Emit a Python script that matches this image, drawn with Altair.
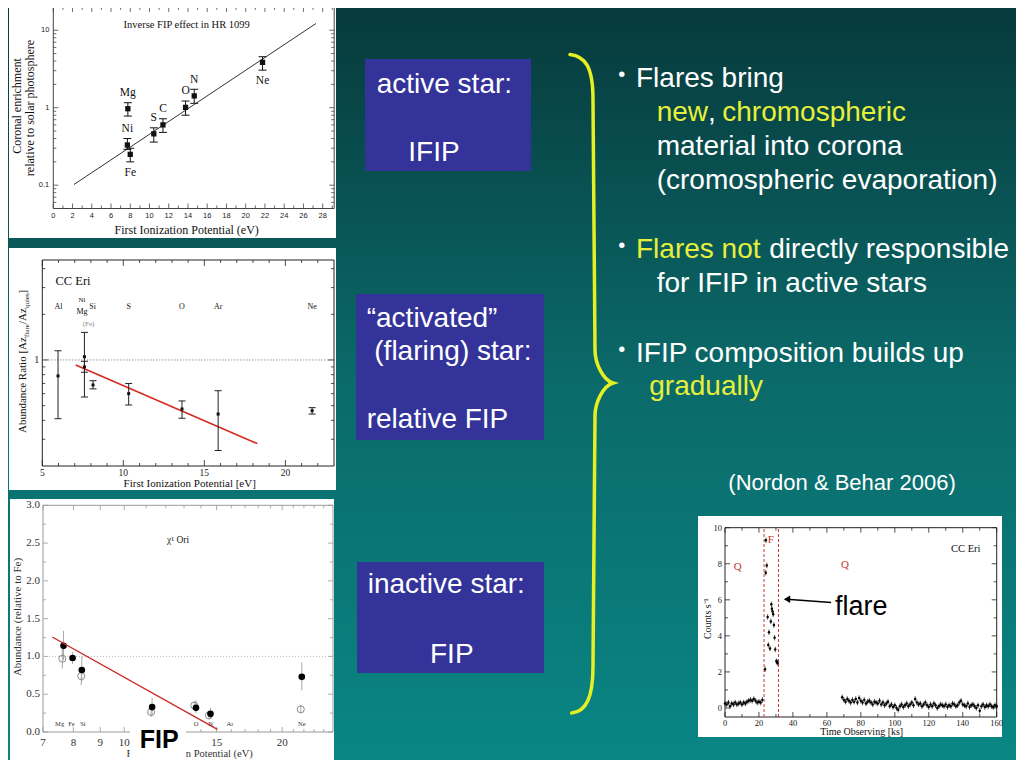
import altair as alt
import pandas as pd

# ======================= DATA =======================
# --- Panel 1: Inverse FIP effect in HR 1099 ---
hr_elem = ["Mg", "Ni", "Fe", "S", "C", "O", "N", "Ne"]
hr_fip = [7.75, 7.7, 8.0, 10.45, 11.4, 13.75, 14.65, 21.75]
hr_val = [0.97, 0.33, 0.25, 0.46, 0.60, 1.01, 1.42, 3.85]
hr_lo = [0.78, 0.29, 0.20, 0.36, 0.48, 0.80, 1.14, 3.05]
hr_hi = [1.16, 0.40, 0.30, 0.55, 0.72, 1.22, 1.73, 4.55]
hr_side = ["above", "above", "below", "above", "above", "above", "above", "below"]
hr_fit_x = [2.15, 27.3]
hr_fit_y = [0.102, 12.2]
hr_x_major = [0, 2, 4, 6, 8, 10, 12, 14, 16, 18, 20, 22, 24, 26, 28]
hr_x_minor = [1, 3, 5, 7, 9, 11, 13, 15, 17, 19, 21, 23, 25, 27, 29]
hr_y_major = [0.1, 1, 10]
hr_y_labels = ["0.1", "1", "10"]
hr_y_minor = [0.06, 0.07, 0.08, 0.09, 0.2, 0.3, 0.4, 0.5, 0.6, 0.7, 0.8, 0.9,
              2, 3, 4, 5, 6, 7, 8, 9]
hr_title = "Inverse FIP effect in HR 1099"
hr_xtitle = "First Ionization Potential (eV)"
hr_ytitle = ["Coronal enrichment", "relative to solar photosphere"]

# --- Panel 2: CC Eri flare / quiescent abundance ratio ---
cc_elem = ["Al", "Ni", "Mg", "Si", "S", "O", "Ar", "Ne"]
cc_fip = [5.97, 7.6, 7.6, 8.13, 10.33, 13.62, 15.85, 21.65]
cc_val = [0.785, 1.05, 0.90, 0.684, 0.60, 0.475, 0.44, 0.463]
cc_lo = [0.41, 0.57, 0.83, 0.645, 0.505, 0.413, 0.253, 0.44]
cc_hi = [1.15, 1.52, 0.98, 0.73, 0.70, 0.537, 0.627, 0.485]
cc_lab = ["Al", "Si", "Mg", "S", "O", "Ar", "Ne"]
cc_lab_x = [6.0, 8.1, 7.45, 10.33, 13.62, 15.85, 21.65]
cc_lab_y = [2.25, 2.25, 2.08, 2.25, 2.25, 2.25, 2.25]
cc_small_lab = ["Ni"]
cc_small_x = [7.45]
cc_small_y = [2.5]
cc_grey_lab = ["(Fe)"]
cc_grey_x = [7.85]
cc_grey_y = [1.73]
cc_fit_x = [7.06, 18.27]
cc_fit_y = [0.927, 0.281]
cc_x_major = [5, 10, 15, 20]
cc_x_minor = [6, 7, 8, 9, 11, 12, 13, 14, 16, 17, 18, 19, 21, 22]
cc_y_major = [1]
cc_y_labels = ["1"]
cc_y_minor = [0.3, 0.4, 0.5, 0.6, 0.7, 0.8, 0.9, 2, 3, 4]
cc_name = "CC Eri"
cc_xtitle = "First Ionization Potential [eV]"
cc_ytitle = ["Abundance Ratio [Az", "flare", "/Az", "quies", "]"]

# --- Panel 3: chi1 Ori ---
chi_f_fip = [7.66, 7.97, 8.3, 11.3, 13.7, 14.6, 21.8]
chi_f_val = [1.14, 0.98, 0.82, 0.33, 0.32, 0.24, 0.73]
chi_f_lo = [0.95, 0.90, 0.66, 0.22, 0.25, 0.18, 0.55]
chi_f_hi = [1.34, 1.06, 1.00, 0.45, 0.42, 0.32, 0.92]
chi_o_fip = [7.62, 8.28, 11.25, 13.6, 14.5, 21.7]
chi_o_val = [0.97, 0.74, 0.265, 0.35, 0.22, 0.30]
chi_o_lo = [0.84, 0.62, 0.20, 0.29, 0.17, 0.25]
chi_o_hi = [1.10, 0.86, 0.33, 0.41, 0.28, 0.36]
chi_lab = ["Mg", "Fe", "Si", "O", "N", "Ar", "Ne"]
chi_lab_x = [7.53, 7.93, 8.34, 13.7, 14.6, 15.9, 21.8]
chi_lab_y = [0.1, 0.1, 0.1, 0.1, 0.1, 0.1, 0.1]
chi_fit_x = [7.29, 15.05]
chi_fit_y = [1.257, 0.036]
chi_x_major = [7, 8, 9, 10, 15, 20]
chi_x_labels = ["7", "8", "9", "10", "15", "20"]
chi_x_minor = [11, 12, 13, 14, 16, 17, 18, 19, 21, 22, 23, 24]
chi_y_major = [0, 0.5, 1.0, 1.5, 2.0, 2.5, 3.0]
chi_y_labels = ["0.0", "0.5", "1.0", "1.5", "2.0", "2.5", "3.0"]
chi_y_minor = [0.25, 0.75, 1.25, 1.75, 2.25, 2.75]
chi_name = "χ¹ Ori"
chi_xtitle = "First Ionization Potential (eV)"
chi_ytitle = "Abundance (relative to Fe)"

# --- Panel 4: CC Eri light curve ---
lc_q1_t = list(range(0, 23))
lc_q1_c = [0.25, 0.2, 0.3, 0.1, 0.25, 0.2, 0.3, 0.2, 0.25, 0.3, 0.2, 0.3,
           0.25, 0.35, 0.4, 0.45, 0.4, 0.5, 0.4, 0.3, 0.35, 0.3, 0.45]
lc_f_t = [23.6, 24.0, 24.1, 24.6, 25.1, 25.5, 25.9, 26.5, 27.0, 27.3, 27.6,
          28.0, 28.4, 28.8, 29.2, 29.6, 30.2, 30.6, 31.0]
lc_f_c = [2.15, 7.5, 9.3, 7.9, 5.05, 3.5, 4.2, 3.3, 4.8, 5.75, 5.5,
          5.35, 5.2, 4.6, 3.9, 3.25, 2.6, 2.55, 2.5]
lc_q2_t = list(range(69, 161))
lc_q2_c = [0.6, 0.45, 0.35, 0.5, 0.4, 0.3, 0.45, 0.35, 0.5, 0.3,
           0.55, 0.4, 0.3, 0.45, 0.25, 0.35, 0.4, 0.3, 0.2, 0.35,
           0.3, 0.25, 0.4, 0.2, 0.3, 0.15, 0.25, 0.35, 0.1, 0.2,
           0.05, 0.15, 0.0, -0.1, 0.1, 0.2, 0.05, 0.15, 0.25, 0.1,
           0.2, 0.3, 0.15, 0.5, 0.3, 0.2, 0.25, 0.1, 0.2, 0.3,
           0.15, 0.05, 0.2, 0.1, 0.25, 0.15, 0.0, 0.1, 0.2, 0.15,
           0.1, 0.2, 0.05, 0.15, 0.1, 0.25, 0.2, 0.1, 0.15, 0.3,
           0.4, 0.2, 0.15, 0.1, 0.25, 0.05, 0.15, 0.2, 0.1, 0.0,
           0.15, -0.15, 0.1, 0.2, 0.05, 0.15, 0.1, 0.2, 0.1, 0.05,
           0.15, 0.1]
lc_err = 0.15
lc_bounds = [23, 31.5]
lc_phase_lab = ["Q", "F", "Q"]
lc_phase_x = [7.5, 27.0, 70.7]
lc_phase_y = [7.8, 9.3, 7.95]
lc_name = "CC Eri"
lc_name_x = [141.8]
lc_name_y = [8.8]
lc_arrow_from = [62.5, 5.85]
lc_arrow_to = [36.5, 6.03]
lc_note = "flare"
lc_note_at = [64.8, 5.14]
lc_x_major = [0, 20, 40, 60, 80, 100, 120, 140, 160]
lc_x_minor = [10, 30, 50, 70, 90, 110, 130, 150]
lc_y_major = [0, 2, 4, 6, 8, 10]
lc_y_minor = [1, 3, 5, 7, 9]
lc_xtitle = "Time Observing [ks]"
lc_ytitle = "Counts s⁻¹"

# --- Slide texts ---
box1_lines = ["active star:", "IFIP"]
box2_lines = ["“activated”", "(flaring) star:", "relative FIP"]
box3_lines = ["inactive star:", "FIP"]
bullet1 = ["Flares bring", "new", ",", "chromospheric", "material into corona",
           "(cromospheric evaporation)"]
bullet2 = ["Flares not", "directly responsible", "for IFIP in active stars"]
bullet3 = ["IFIP composition builds up", "gradually"]
citation = "(Nordon & Behar 2006)"
fip_tag = "FIP"

# ======================= LAYOUT HELPERS =======================
OFF = 8
W, H = 1008, 752
SERIF = "Liberation Serif"
SANS = "Liberation Sans"
ONE = pd.DataFrame({"k": [0]})
YEL = "#e6f03a"
BOX = "#333399"


def px(v):
    return v - OFF


def scales(xt, xd, xr, yt, yd, yr):
    sx = alt.Scale(type=xt, domain=xd, range=[px(xr[0]), px(xr[1])], nice=False)
    sy = alt.Scale(type=yt, domain=yd, range=[px(yr[0]), px(yr[1])], nice=False)
    return sx, sy


def X(sc, f):
    return alt.X(f, type="quantitative", scale=sc, axis=None)


def Y(sc, f):
    return alt.Y(f, type="quantitative", scale=sc, axis=None)


def XD(sc, v):
    return alt.XDatum(v, type="quantitative", scale=sc, axis=None)


def YD(sc, v):
    return alt.YDatum(v, type="quantitative", scale=sc, axis=None)


def ptext(t, x, y, size, color="white", font=SANS, align="left",
          baseline="alphabetic", angle=0, weight="normal"):
    return alt.Chart(ONE).mark_text(
        align=align, baseline=baseline, font=font, fontSize=size, color=color,
        angle=angle, fontWeight=weight
    ).encode(x=alt.value(px(x)), y=alt.value(px(y)), text=alt.value(t))


def prect(x, x2, y, y2, fill):
    return alt.Chart(ONE).mark_rect(fill=fill).encode(
        x=alt.value(px(x)), x2=alt.value(px(x2)),
        y=alt.value(px(y)), y2=alt.value(px(y2)))


def axes(sx, sy, xd, yd, xmaj, xmin, ymaj, ymin, color, lmaj=5, lmin=3):
    L = [alt.Chart(ONE).mark_rect(fillOpacity=0, stroke=color, strokeWidth=1).encode(
        x=XD(sx, xd[0]), x2=alt.X2Datum(xd[1]),
        y=YD(sy, yd[0]), y2=alt.Y2Datum(yd[1]))]
    for vals, ln in ((xmaj, lmaj), (xmin, lmin)):
        d = pd.DataFrame({"v": vals})
        L.append(alt.Chart(d).mark_rule(color=color, strokeWidth=0.8, y2Offset=-ln).encode(
            x=X(sx, "v"), y=YD(sy, yd[0]), y2=alt.Y2Datum(yd[0])))
        L.append(alt.Chart(d).mark_rule(color=color, strokeWidth=0.8, y2Offset=ln).encode(
            x=X(sx, "v"), y=YD(sy, yd[1]), y2=alt.Y2Datum(yd[1])))
    for vals, ln in ((ymaj, lmaj), (ymin, lmin)):
        d = pd.DataFrame({"v": vals})
        L.append(alt.Chart(d).mark_rule(color=color, strokeWidth=0.8, x2Offset=ln).encode(
            y=Y(sy, "v"), x=XD(sx, xd[0]), x2=alt.X2Datum(xd[0])))
        L.append(alt.Chart(d).mark_rule(color=color, strokeWidth=0.8, x2Offset=-ln).encode(
            y=Y(sy, "v"), x=XD(sx, xd[1]), x2=alt.X2Datum(xd[1])))
    return L


def xlabels(sx, sy, vals, texts, ybase, dy, font, size, color="#222"):
    d = pd.DataFrame({"v": vals, "t": texts})
    return alt.Chart(d).mark_text(font=font, fontSize=size, color=color,
                                  baseline="middle", dy=dy).encode(
        x=X(sx, "v"), y=YD(sy, ybase), text="t:N")


def ylabels(sx, sy, vals, texts, xbase, dx, font, size, color="#222"):
    d = pd.DataFrame({"v": vals, "t": texts})
    return alt.Chart(d).mark_text(font=font, fontSize=size, color=color,
                                  baseline="middle", align="right", dx=dx).encode(
        x=XD(sx, xbase), y=Y(sy, "v"), text="t:N")


def errbars(sx, sy, df, color, cap=0, width=1):
    L = [alt.Chart(df).mark_rule(color=color, strokeWidth=width).encode(
        x=X(sx, "x"), y=Y(sy, "lo"), y2="hi")]
    if cap:
        for f in ("lo", "hi"):
            L.append(alt.Chart(df).mark_tick(orient="horizontal", size=cap, thickness=1,
                                             color=color, opacity=1).encode(
                x=X(sx, "x"), y=Y(sy, f)))
    return L


# ======================= PANEL 1 =======================
sx1, sy1 = scales("linear", [0, 29.2], [53.3, 334.2], "log", [0.05, 20], [208.5, 6.9])
hr = pd.DataFrame({"el": hr_elem, "x": hr_fip, "v": hr_val, "lo": hr_lo,
                   "hi": hr_hi, "side": hr_side})
p1 = axes(sx1, sy1, [0, 29.2], [0.05, 20], hr_x_major, hr_x_minor,
          hr_y_major, hr_y_minor, "#444", 5, 3)
p1.append(alt.Chart(pd.DataFrame({"x": hr_fit_x, "y": hr_fit_y})).mark_line(
    color="#333", strokeWidth=1).encode(x=X(sx1, "x"), y=Y(sy1, "y")))
p1 += errbars(sx1, sy1, hr, "#111", cap=8)
p1.append(alt.Chart(hr).mark_square(size=28, color="#111", opacity=1).encode(
    x=X(sx1, "x"), y=Y(sy1, "v")))
p1.append(alt.Chart(hr[hr.side == "above"]).mark_text(
    dy=-16, font=SERIF, fontSize=11.5, color="#111").encode(
    x=X(sx1, "x"), y=Y(sy1, "v"), text="el:N"))
p1.append(alt.Chart(hr[hr.side == "below"]).mark_text(
    dy=19, font=SERIF, fontSize=11.5, color="#111").encode(
    x=X(sx1, "x"), y=Y(sy1, "v"), text="el:N"))
p1.append(xlabels(sx1, sy1, hr_x_major, [str(v) for v in hr_x_major], 0.05, 7, SANS, 7.5))
p1.append(ylabels(sx1, sy1, hr_y_major, hr_y_labels, 0, -4, SANS, 7.5))
p1.append(ptext(hr_title, 186.7, 25, 10.5, "#111", SERIF, "center", "middle"))
p1.append(ptext(hr_xtitle, 186.7, 230, 12, "#111", SERIF, "center", "middle"))
p1.append(ptext(hr_ytitle[0], 17, 106, 12, "#111", SERIF, "center", "middle", 270))
p1.append(ptext(hr_ytitle[1], 30, 108, 12, "#111", SERIF, "center", "middle", 270))

# ======================= PANEL 2 =======================
sx2, sy2 = scales("linear", [5, 23], [42.3, 334], "log", [0.2, 4.56], [466, 260])
cc = pd.DataFrame({"el": cc_elem, "x": cc_fip, "v": cc_val, "lo": cc_lo, "hi": cc_hi})
p2 = axes(sx2, sy2, [5, 23], [0.2, 4.56], cc_x_major, cc_x_minor,
          cc_y_major, cc_y_minor, "#222", 6, 3)
p2.append(alt.Chart(ONE).mark_rule(color="#666", strokeDash=[1, 2], strokeWidth=1).encode(
    x=XD(sx2, 5), x2=alt.X2Datum(23), y=YD(sy2, 1)))
p2.append(alt.Chart(pd.DataFrame({"x": cc_fit_x, "y": cc_fit_y})).mark_line(
    color="#d42a20", strokeWidth=1.6).encode(x=X(sx2, "x"), y=Y(sy2, "y")))
p2 += errbars(sx2, sy2, cc, "#222", cap=7)
p2.append(alt.Chart(cc).mark_square(size=9, color="#111", opacity=1).encode(
    x=X(sx2, "x"), y=Y(sy2, "v")))
for labs, lx, ly, size, col in ((cc_lab, cc_lab_x, cc_lab_y, 8, "#111"),
                                (cc_small_lab, cc_small_x, cc_small_y, 7, "#111"),
                                (cc_grey_lab, cc_grey_x, cc_grey_y, 7, "#888")):
    p2.append(alt.Chart(pd.DataFrame({"t": labs, "x": lx, "y": ly})).mark_text(
        font=SERIF, fontSize=size, color=col, baseline="middle").encode(
        x=X(sx2, "x"), y=Y(sy2, "y"), text="t:N"))
p2.append(xlabels(sx2, sy2, cc_x_major, [str(v) for v in cc_x_major], 0.2, 7, SERIF, 9.5))
p2.append(ylabels(sx2, sy2, cc_y_major, cc_y_labels, 5, -3, SERIF, 10))
p2.append(ptext(cc_name, 73, 281, 12.5, "#111", SERIF, "center", "middle"))
p2.append(ptext(cc_xtitle, 189.7, 483.5, 11, "#111", SERIF, "center", "middle"))
# rotated title in pieces (main / subscript)
p2.append(ptext(cc_ytitle[0], 23, 433, 11, "#111", SERIF, "left", "middle", 270))
p2.append(ptext(cc_ytitle[1], 26.5, 337, 7, "#111", SERIF, "left", "middle", 270))
p2.append(ptext(cc_ytitle[2], 23, 324, 11, "#111", SERIF, "left", "middle", 270))
p2.append(ptext(cc_ytitle[3], 26.5, 308, 7, "#111", SERIF, "left", "middle", 270))
p2.append(ptext(cc_ytitle[4], 23, 293.5, 11, "#111", SERIF, "left", "middle", 270))

# ======================= PANEL 3 =======================
sx3, sy3 = scales("log", [7, 25], [43, 333], "linear", [0, 3], [732, 505.3])
chf = pd.DataFrame({"x": chi_f_fip, "v": chi_f_val, "lo": chi_f_lo, "hi": chi_f_hi})
cho = pd.DataFrame({"x": chi_o_fip, "v": chi_o_val, "lo": chi_o_lo, "hi": chi_o_hi})
p3 = axes(sx3, sy3, [7, 25], [0, 3], chi_x_major, chi_x_minor,
          chi_y_major, chi_y_minor, "#9a9a9a", 5, 3)
p3.append(alt.Chart(ONE).mark_rule(color="#bbb", strokeDash=[1, 2], strokeWidth=1).encode(
    x=XD(sx3, 7), x2=alt.X2Datum(25), y=YD(sy3, 1)))
p3 += errbars(sx3, sy3, cho, "#aaa", cap=0, width=1)
p3 += errbars(sx3, sy3, chf, "#aaa", cap=0, width=1)
p3.append(alt.Chart(cho).mark_point(shape="circle", filled=False, color="#8a8a8a",
                                    strokeWidth=1, size=50, opacity=1).encode(
    x=X(sx3, "x"), y=Y(sy3, "v")))
p3.append(alt.Chart(chf).mark_circle(size=44, color="#000", opacity=1).encode(
    x=X(sx3, "x"), y=Y(sy3, "v")))
p3.append(alt.Chart(pd.DataFrame({"x": chi_fit_x, "y": chi_fit_y})).mark_line(
    color="#cc2a22", strokeWidth=1.4).encode(x=X(sx3, "x"), y=Y(sy3, "y")))
p3.append(alt.Chart(pd.DataFrame({"t": chi_lab, "x": chi_lab_x, "y": chi_lab_y})).mark_text(
    font=SERIF, fontSize=6.5, color="#333", baseline="middle").encode(
    x=X(sx3, "x"), y=Y(sy3, "y"), text="t:N"))
p3.append(xlabels(sx3, sy3, chi_x_major, chi_x_labels, 0, 11, SERIF, 11, "#333"))
p3.append(ylabels(sx3, sy3, chi_y_major, chi_y_labels, 7, -3, SERIF, 11, "#333"))
p3.append(ptext(chi_name, 178, 540, 9.5, "#222", SERIF, "center", "middle"))
p3.append(ptext(chi_xtitle, 189.7, 754, 10.5, "#333", SERIF, "center", "middle"))
p3.append(ptext(chi_ytitle, 18, 617, 11, "#333", SERIF, "center", "middle", 270))

# ======================= PANEL 4 =======================
sx4, sy4 = scales("linear", [0, 160], [725, 996.7], "linear", [-0.5, 10], [717, 527.7])
lc = pd.DataFrame({"x": lc_q1_t + lc_f_t + lc_q2_t, "v": lc_q1_c + lc_f_c + lc_q2_c})
lc["lo"] = lc["v"] - lc_err
lc["hi"] = lc["v"] + lc_err
p4 = axes(sx4, sy4, [0, 160], [-0.5, 10], lc_x_major, lc_x_minor,
          lc_y_major, lc_y_minor, "#222", 5, 3)
p4.append(alt.Chart(pd.DataFrame({"x": lc_bounds})).mark_rule(
    color="#d03a3a", strokeDash=[3, 2], strokeWidth=1).encode(
    x=X(sx4, "x"), y=YD(sy4, -0.5), y2=alt.Y2Datum(10)))
p4 += errbars(sx4, sy4, lc, "#222", cap=0, width=0.8)
p4.append(alt.Chart(lc).mark_circle(size=6, color="#000", opacity=1).encode(
    x=X(sx4, "x"), y=Y(sy4, "v")))
p4.append(alt.Chart(pd.DataFrame({"t": lc_phase_lab, "x": lc_phase_x, "y": lc_phase_y})).mark_text(
    font=SERIF, fontSize=11, color="#c8302c", baseline="middle").encode(
    x=X(sx4, "x"), y=Y(sy4, "y"), text="t:N"))
p4.append(alt.Chart(pd.DataFrame({"t": [lc_name], "x": lc_name_x, "y": lc_name_y})).mark_text(
    font=SERIF, fontSize=10.5, color="#111", baseline="middle").encode(
    x=X(sx4, "x"), y=Y(sy4, "y"), text="t:N"))
p4.append(xlabels(sx4, sy4, lc_x_major, [str(v) for v in lc_x_major], -0.5, 6, SERIF, 8.5))
p4.append(ylabels(sx4, sy4, lc_y_major, [str(v) for v in lc_y_major], 0, -3, SERIF, 8.5))
p4.append(ptext(lc_xtitle, 861.7, 732, 10, "#111", SERIF, "center", "middle"))
p4.append(ptext(lc_ytitle, 708.3, 618.7, 10, "#111", SERIF, "center", "middle", 270))
arrow = pd.DataFrame({"x": [lc_arrow_from[0]], "y": [lc_arrow_from[1]],
                      "x2": [lc_arrow_to[0]], "y2": [lc_arrow_to[1]]})
p4.append(alt.Chart(arrow).mark_rule(color="#000", strokeWidth=1.5).encode(
    x=X(sx4, "x"), y=Y(sy4, "y"), x2="x2", y2="y2"))
p4.append(alt.Chart(arrow).mark_point(shape="triangle-left", filled=True, color="#000",
                                      size=55, opacity=1).encode(
    x=X(sx4, "x2"), y=Y(sy4, "y2")))
p4.append(alt.Chart(pd.DataFrame({"t": [lc_note], "x": [lc_note_at[0]], "y": [lc_note_at[1]]})).mark_text(
    font=SANS, fontSize=27, color="#000", align="left", baseline="alphabetic").encode(
    x=X(sx4, "x"), y=Y(sy4, "y"), text="t:N"))

# ======================= SLIDE =======================
bg = alt.Chart(ONE).mark_rect(fill=alt.LinearGradient(
    gradient="linear", x1=0, y1=0, x2=0, y2=1,
    stops=[alt.GradientStop(color="#073a3c", offset=0),
           alt.GradientStop(color="#0b6a6a", offset=0.5),
           alt.GradientStop(color="#098684", offset=1)])).encode(
    x=alt.value(0), x2=alt.value(W), y=alt.value(0), y2=alt.value(H))

panels = [prect(9, 336, 4, 238, "white"), prect(9, 336, 248, 490, "white"),
          prect(10, 334, 499, 768, "white"), prect(698, 1002, 516, 737, "white")]

slide = []
slide.append(prect(130, 186, 727, 768, "white"))
slide.append(ptext(fip_tag, 139.7, 747.7, 25, "#000", SANS, "left", "alphabetic", 0, "bold"))
slide.append(prect(365, 531, 59, 171, BOX))
slide.append(prect(356, 544, 294, 440, BOX))
slide.append(prect(357, 544, 562, 673, BOX))
slide.append(ptext(box1_lines[0], 376.7, 92.7, 28))
slide.append(ptext(box1_lines[1], 408.3, 161, 28))
slide.append(ptext(box2_lines[0], 366.7, 326.7, 28))
slide.append(ptext(box2_lines[1], 374.3, 360, 28))
slide.append(ptext(box2_lines[2], 366.7, 427.7, 28))
slide.append(ptext(box3_lines[0], 367.7, 593.3, 28))
slide.append(ptext(box3_lines[1], 430, 662.7, 28))
for by in (87.3, 258.3, 361.7):
    slide.append(ptext("•", 621.7, by - 6, 20, "white", SANS, "center"))
slide.append(ptext(bullet1[0], 636, 87.3, 28))
slide.append(ptext(bullet1[1], 656.7, 121.3, 28, YEL))
slide.append(ptext(bullet1[2], 708, 121.3, 28))
slide.append(ptext(bullet1[3], 722.3, 121.3, 28, YEL))
slide.append(ptext(bullet1[4], 656.7, 155.3, 28))
slide.append(ptext(bullet1[5], 656.7, 189, 28))
slide.append(ptext(bullet2[0], 636, 258.3, 28, YEL))
slide.append(ptext(bullet2[1], 769.3, 258.3, 28))
slide.append(ptext(bullet2[2], 656.7, 292, 28))
slide.append(ptext(bullet3[0], 636, 361.7, 28))
slide.append(ptext(bullet3[1], 649.3, 395.3, 28, YEL))
slide.append(ptext(citation, 728.3, 490, 22))

brace_path = ("M -0.0652 -0.9955 C -0.02 -0.99 0.0045 -0.96 0.0045 -0.86 "
              "L 0.0106 -0.10 C 0.0106 -0.06 0.0348 -0.009 0.0652 0 "
              "C 0.0348 0.009 0.0106 0.06 0.0106 0.10 "
              "L 0.0045 0.86 C 0.0045 0.95 -0.015 0.995 -0.06 1.0")
slide.append(alt.Chart(ONE).mark_point(
    shape=brace_path, size=435600, filled=False, stroke="#e4f022", strokeWidth=3.5,
    opacity=1, strokeCap="round").encode(x=alt.value(px(591.5)), y=alt.value(px(383))))

layers = [bg] + panels + [alt.layer(*p1), alt.layer(*p2), alt.layer(*p3), alt.layer(*p4)] + slide

chart = alt.layer(*layers).resolve_scale(
    x="independent", y="independent"
).properties(
    width=W, height=H, padding=0,
    autosize=alt.AutoSizeParams(type="none"),
    background="#0a6262"
).configure_view(strokeWidth=0)

chart.save("out.html", embed_options={"renderer": "svg", "actions": False})
